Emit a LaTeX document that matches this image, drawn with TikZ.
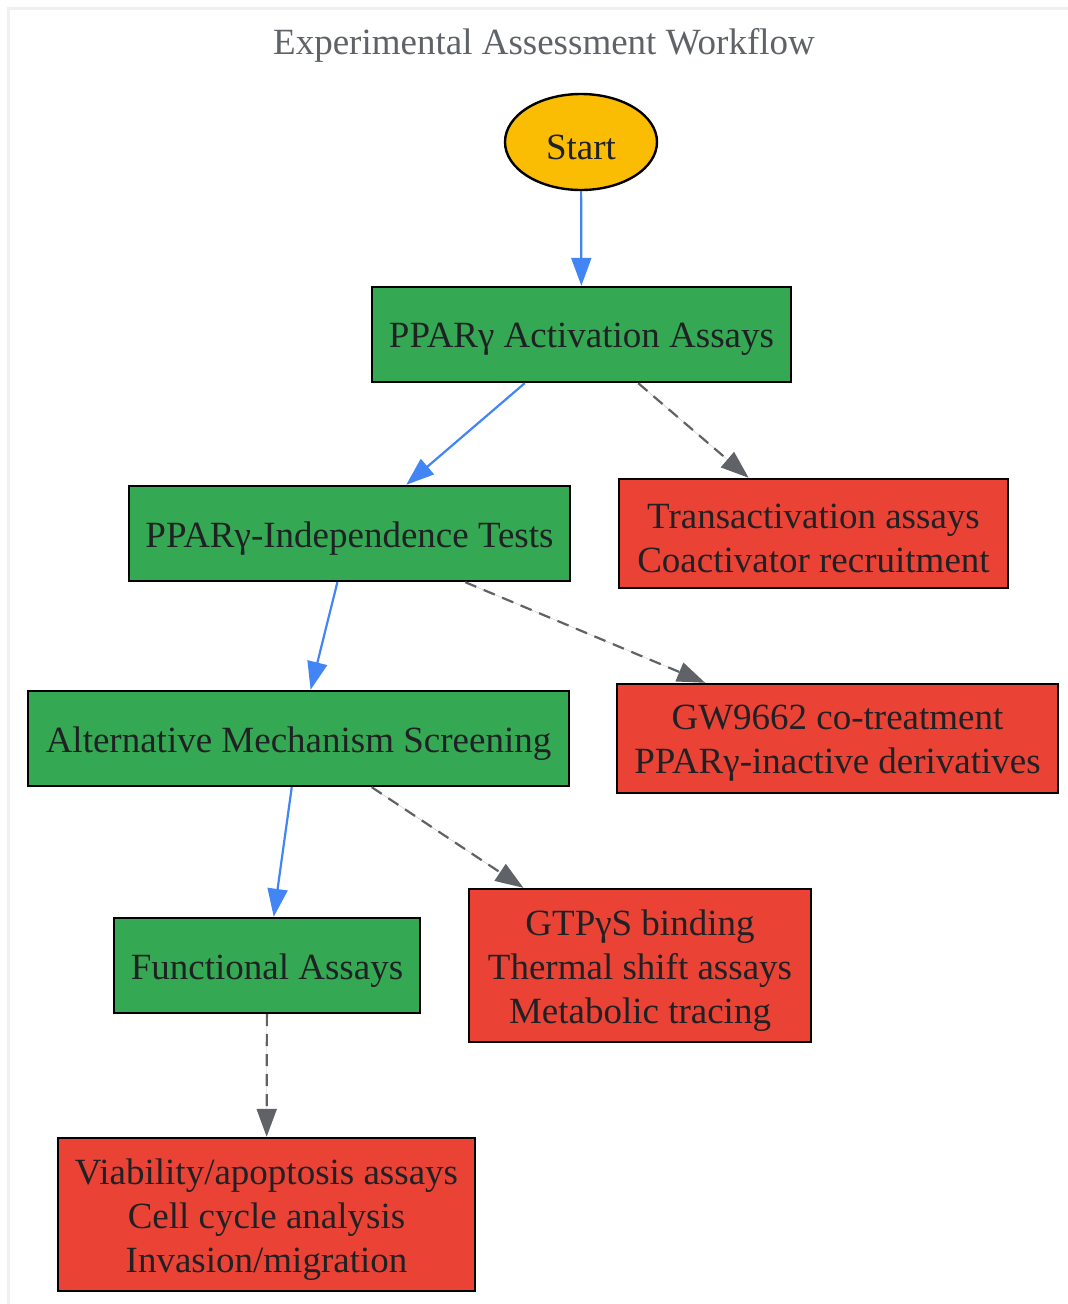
\documentclass[tikz,border=0pt]{standalone}
\usepackage{fontspec}
\setmainfont{Liberation Serif}
\usetikzlibrary{shapes.geometric,arrows.meta}
\definecolor{gstart}{HTML}{FBBC04}
\definecolor{ggreen}{HTML}{34A853}
\definecolor{gred}{HTML}{EA4335}
\definecolor{gblue}{HTML}{4285F4}
\definecolor{ggray}{HTML}{5F6368}
\definecolor{gtext}{HTML}{202124}
\definecolor{gframe}{HTML}{F0F0F0}
\tikzset{
  nodetext/.style={text=gtext, align=center, inner sep=0pt, yshift=-5pt,
    font=\fontsize{37}{44}\selectfont},
  base/.style={draw=black, line width=2.4pt, inner sep=0pt},
  startnode/.style={base, ellipse, fill=gstart, minimum width=152pt, minimum height=96pt},
  stepbox/.style={base, rectangle, fill=ggreen, minimum height=95pt},
  detailbox/.style={base, rectangle, fill=gred},
  mainflow/.style={draw=gblue, line width=2.2pt, -{Triangle[length=28pt,width=20pt]}},
  sideflow/.style={draw=ggray, line width=2.2pt, dash pattern=on 12pt off 8pt,
    -{Triangle[length=28pt,width=20pt]}, fill=ggray},
}
\begin{document}
\begin{tikzpicture}[x=1pt,y=-1pt]
\useasboundingbox (0,0) rectangle (1068,1304);
\draw[gframe, line width=3pt] (8,8) rectangle (1080,1320);
\node[text=ggray, inner sep=0pt, font=\fontsize{37}{44}\selectfont] (title) at (544,45) {Experimental Assessment Workflow};

\node[startnode, label={[nodetext]center:Start}] (start) at (581,142) {};
\node[stepbox, minimum width=419pt, label={[nodetext]center:PPARγ Activation Assays}] (act) at (581.5,334.5) {};
\node[detailbox, minimum width=389pt, minimum height=109pt, label={[nodetext]center:Transactivation assays\\Coactivator recruitment}] (trans) at (813.5,533.5) {};
\node[stepbox, minimum width=441pt, label={[nodetext]center:PPARγ-Independence Tests}] (ind) at (349.5,533.5) {};
\node[detailbox, minimum width=441pt, minimum height=109pt, label={[nodetext]center:GW9662 co-treatment\\PPARγ-inactive derivatives}] (gw) at (837.5,738.5) {};
\node[stepbox, minimum width=541pt, label={[nodetext]center:Alternative Mechanism Screening}] (alt) at (298.5,738.5) {};
\node[detailbox, minimum width=342pt, minimum height=153pt, label={[nodetext]center:GTPγS binding\\Thermal shift assays\\Metabolic tracing}] (gtp) at (640,965.5) {};
\node[stepbox, minimum width=306pt, label={[nodetext]center:Functional Assays}] (func) at (267,965.5) {};
\node[detailbox, minimum width=417pt, minimum height=153pt, label={[nodetext]center:Viability/apoptosis assays\\Cell cycle analysis\\Invasion/migration}] (via) at (266.5,1214.5) {};

\draw[mainflow] (start) -- (act);
\draw[mainflow] (act) -- (ind);
\draw[sideflow] (act) -- (trans);
\draw[mainflow] (ind) -- (alt);
\draw[sideflow] (ind) -- (gw);
\draw[mainflow] (alt) -- (func);
\draw[sideflow] (alt) -- (gtp);
\draw[sideflow] (func) -- (via);
\end{tikzpicture}
\end{document}
